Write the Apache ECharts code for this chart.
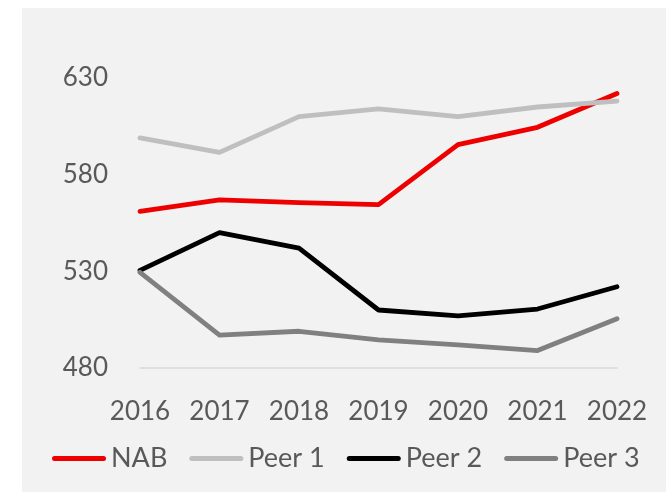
<!DOCTYPE html>
<html>
<head>
<meta charset="utf-8">
<script src="https://cdn.jsdelivr.net/npm/echarts@6/dist/echarts.min.js"></script>
<style>
  html, body { margin: 0; padding: 0; background: #ffffff; }
  #chart { width: 666px; height: 492px; }
</style>
</head>
<body>
<div id="chart"></div>
<script>
var years = ['2016', '2017', '2018', '2019', '2020', '2021', '2022'];
var nab = [561, 567, 565.5, 564.5, 595.5, 604.5, 622];
var peer1 = [599, 591.5, 610, 614, 610, 615, 618];
var peer2 = [530.5, 550, 542, 510, 507, 510.5, 522];
var peer3 = [529.5, 497, 499, 494.5, 492, 489, 505.5];
var yTicks = [480, 530, 580, 630];

var myChart = echarts.init(document.getElementById('chart'));

var font = 'Lato';
var textColor = '#595959';
// capsule shaped legend key, stretched to itemWidth x itemHeight
var keyIcon = 'path://M2.5,0 H51.5 A2.5,2.5 0 0 1 51.5,5 H2.5 A2.5,2.5 0 0 1 2.5,0 Z';

function lineSeries(name, data, color) {
    return {
        name: name,
        type: 'line',
        data: data,
        symbol: 'none',
        lineStyle: {width: 4.8, color: color, cap: 'round', join: 'round'},
        itemStyle: {color: color}
    };
}

var option = {
    animation: false,
    graphic: [{
        type: 'rect',
        left: 22,
        top: 8,
        shape: {width: 644, height: 484},
        style: {fill: '#f2f2f2'},
        z: -10
    }],
    grid: {left: 140, right: 49, top: 78, bottom: 124},
    legend: {
        left: 47,
        top: 440,
        icon: keyIcon,
        itemWidth: 54,
        itemHeight: 5,
        itemGap: 22,
        textStyle: {fontFamily: font, fontSize: 27, color: textColor},
        data: ['NAB', 'Peer 1', 'Peer 2', 'Peer 3']
    },
    xAxis: {
        type: 'category',
        data: years,
        boundaryGap: false,
        axisLine: {lineStyle: {color: '#d9d9d9', width: 1.5}},
        axisTick: {show: false},
        axisLabel: {fontFamily: font, fontSize: 26, color: textColor, margin: 31}
    },
    yAxis: {
        type: 'value',
        min: 480,
        max: 630,
        interval: 50,
        axisLine: {show: false},
        axisTick: {show: false},
        splitLine: {show: false},
        axisLabel: {
            fontFamily: font, fontSize: 26, color: textColor, margin: 32,
            formatter: function (v) {
                return yTicks.indexOf(v) >= 0 ? String(v) : '';
            }
        }
    },
    series: [
        lineSeries('NAB', nab, '#ee0000'),
        lineSeries('Peer 1', peer1, '#bfbfbf'),
        lineSeries('Peer 2', peer2, '#000000'),
        lineSeries('Peer 3', peer3, '#808080')
    ]
};

myChart.setOption(option);
</script>
</body>
</html>
